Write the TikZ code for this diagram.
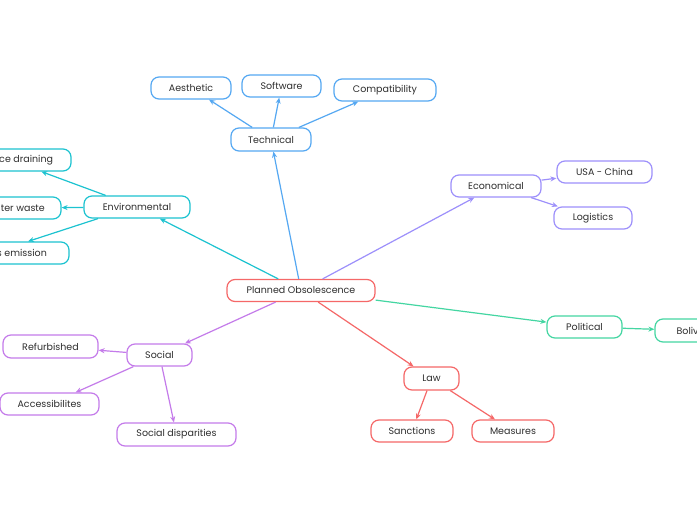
\documentclass[tikz,border=0pt]{standalone}
\usepackage{fontspec}
\setmainfont{Poppins}
\usetikzlibrary{arrows.meta}
\definecolor{ctech}{HTML}{55A8F2}
\definecolor{cenv}{HTML}{1CC3D0}
\definecolor{ceco}{HTML}{9D90FB}
\definecolor{cpol}{HTML}{44D6A2}
\definecolor{csoc}{HTML}{C47BEA}
\definecolor{claw}{HTML}{F56868}
\definecolor{ctxt}{HTML}{2E2E2E}
\tikzset{
  box/.style={draw=#1, fill=white, rounded corners=8pt, line width=1.2pt,
    minimum height=22pt, inner xsep=4pt, inner ysep=0pt, text=ctxt,
    font=\fontsize{9.5pt}{11pt}\selectfont},
  link/.style={draw=#1, line width=1.2pt, -{Stealth[length=6pt,width=5pt]}}
}
\begin{document}
\begin{tikzpicture}[x=1pt,y=-1pt]
\useasboundingbox[fill=white] (0,0) rectangle (697,520);
\begin{scope}
\clip (0,0) rectangle (697,520);
% root
\node[box=claw, minimum width=148pt] (root) at (301,290.5) {Planned Obsolescence};
% technical
\node[box=ctech, minimum width=80pt, minimum height=23pt] (tech) at (271,139.5) {Technical};
\node[box=ctech, minimum width=80pt] (aes) at (191,88) {Aesthetic};
\node[box=ctech, minimum width=79pt] (soft) at (281.5,86) {Software};
\node[box=ctech, minimum width=102pt] (comp) at (385,90) {Compatibility};
% environmental
\node[box=cenv, minimum width=106pt] (env) at (137,207) {Environmental};
\node[box=cenv, minimum width=122pt] (res) at (10,160) {Resource draining};
\node[box=cenv, minimum width=92pt] (wat) at (15,208) {Water waste};
\node[box=cenv, minimum width=108pt] (gas) at (15,253) {Gas emission};
% economical
\node[box=ceco, minimum width=90pt] (eco) at (496,186) {Economical};
\node[box=ceco, minimum width=95pt] (usa) at (604.5,172) {USA - China};
\node[box=ceco, minimum width=78pt] (log) at (593,218) {Logistics};
% political
\node[box=cpol, minimum width=75pt] (pol) at (584.5,327) {Political};
\node[box=cpol, minimum width=74pt, minimum height=23pt] (bol) at (692,330.5) {Bolivia};
% social
\node[box=csoc, minimum width=65pt] (soc) at (159.5,355) {Social};
\node[box=csoc, minimum width=95pt, minimum height=23pt] (ref) at (50.5,346.5) {Refurbished};
\node[box=csoc, minimum width=99pt] (acc) at (49.5,404) {Accessibilites};
\node[box=csoc, minimum width=119pt, minimum height=23pt] (dis) at (176.5,434.5) {Social disparities};
% law
\node[box=claw, minimum width=55pt, minimum height=23pt] (law) at (431.5,378.5) {Law};
\node[box=claw, minimum width=82pt] (san) at (412,431) {Sanctions};
\node[box=claw, minimum width=82pt] (mea) at (513,431) {Measures};
% links
\draw[link=ctech] (root) -- (tech);
\draw[link=ctech] (tech) -- (aes);
\draw[link=ctech] (tech) -- (soft);
\draw[link=ctech] (tech) -- (comp);
\draw[link=cenv] (root) -- (env);
\draw[link=cenv] (env) -- (res);
\draw[link=cenv] (env) -- (wat);
\draw[link=cenv] ([xshift=-39pt]env.south) -- ([xshift=13pt]gas.north);
\draw[link=ceco] (root) -- (eco);
\draw[link=ceco] (eco) -- (usa);
\draw[link=ceco] (eco) -- (log);
\draw[link=cpol] (root) -- (pol);
\draw[link=cpol] (pol) -- (bol);
\draw[link=csoc] (root) -- (soc);
\draw[link=csoc] (soc) -- (ref);
\draw[link=csoc] (soc) -- (acc);
\draw[link=csoc] (soc) -- (dis);
\draw[link=claw] (root) -- (law);
\draw[link=claw] (law) -- (san);
\draw[link=claw] (law) -- (mea);
\end{scope}
\end{tikzpicture}
\end{document}
